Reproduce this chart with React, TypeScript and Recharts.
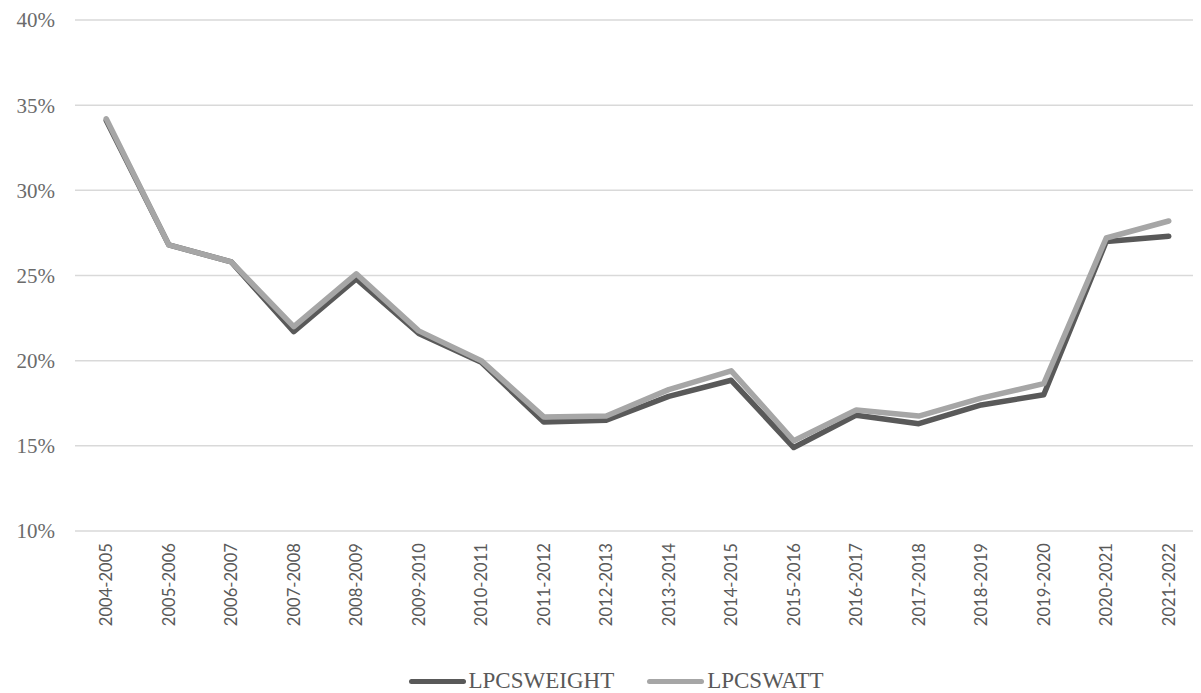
import React from "react";
import { LineChart, Line, XAxis, YAxis, CartesianGrid, Legend } from "recharts";

const categories = [
  "2004-2005", "2005-2006", "2006-2007", "2007-2008", "2008-2009", "2009-2010",
  "2010-2011", "2011-2012", "2012-2013", "2013-2014", "2014-2015", "2015-2016",
  "2016-2017", "2017-2018", "2018-2019", "2019-2020", "2020-2021", "2021-2022",
];
const weightValues = [34.1, 26.8, 25.8, 21.7, 24.8, 21.6, 19.9, 16.4, 16.5, 17.9, 18.85, 14.9, 16.8, 16.3, 17.4, 18.0, 27.0, 27.3];
const wattValues = [34.2, 26.8, 25.8, 22.0, 25.1, 21.75, 20.0, 16.7, 16.75, 18.3, 19.4, 15.3, 17.1, 16.75, 17.8, 18.65, 27.2, 28.2];
const yTicks = [10, 15, 20, 25, 30, 35, 40];

const seriesNames = ["LPCSWEIGHT", "LPCSWATT"];
const seriesColors = ["#595959", "#a6a6a6"];

const data = categories.map((c, i) => ({
  period: c,
  LPCSWEIGHT: weightValues[i],
  LPCSWATT: wattValues[i],
}));

const XTick = (props: any) => {
  const { x, y, payload } = props;
  return (
    <text
      x={x}
      y={y + 4}
      transform={`rotate(-90, ${x}, ${y + 4})`}
      textAnchor="end"
      dy="0.35em"
      fill="#595959"
      fontFamily="Lato"
      fontSize={16.6}
    >
      {payload.value}
    </text>
  );
};

const YTick = (props: any) => {
  const { x, y, payload } = props;
  return (
    <text
      x={x - 8}
      y={y}
      textAnchor="end"
      dy="0.35em"
      fill="#6b6b6b"
      fontFamily="Liberation Serif"
      fontSize={21}
    >
      {`${payload.value}%`}
    </text>
  );
};

const LegendContent = () => (
  <div
    style={{
      height: 24,
      display: "flex",
      justifyContent: "center",
      alignItems: "center",
      fontFamily: "Liberation Serif",
      fontSize: 23,
      color: "#595959",
      paddingLeft: 24,
    }}
  >
    {seriesNames.map((n, i) => (
      <div key={n} style={{ display: "flex", alignItems: "center", marginRight: i === 0 ? 33 : 0 }}>
        <div
          style={{
            width: 57,
            height: 5,
            borderRadius: 3,
            background: seriesColors[i],
            marginRight: 3,
          }}
        />
        <span style={{ lineHeight: "24px" }}>{n}</span>
      </div>
    ))}
  </div>
);

export default function App() {
  return (
    <LineChart
      width={1193}
      height={685}
      data={data}
      margin={{ top: 12, right: 1, left: 0, bottom: 0 }}
    >
      <CartesianGrid vertical={false} stroke="#d9d9d9" strokeWidth={1.5} />
      <XAxis
        dataKey="period"
        scale="band"
        axisLine={false}
        tickLine={false}
        interval={0}
        height={138}
        tick={<XTick />}
      />
      <YAxis
        domain={[10, 40]}
        ticks={yTicks}
        axisLine={false}
        tickLine={false}
        width={67}
        tick={<YTick />}
        tickMargin={6}
      />
      <Legend verticalAlign="bottom" content={<LegendContent />} />
      {seriesNames.map((n, i) => (
        <Line
          key={n}
          dataKey={n}
          type="linear"
          stroke={seriesColors[i]}
          strokeWidth={5.5}
          strokeLinecap="round"
          strokeLinejoin="round"
          dot={false}
          activeDot={false}
          isAnimationActive={false}
        />
      ))}
    </LineChart>
  );
}
